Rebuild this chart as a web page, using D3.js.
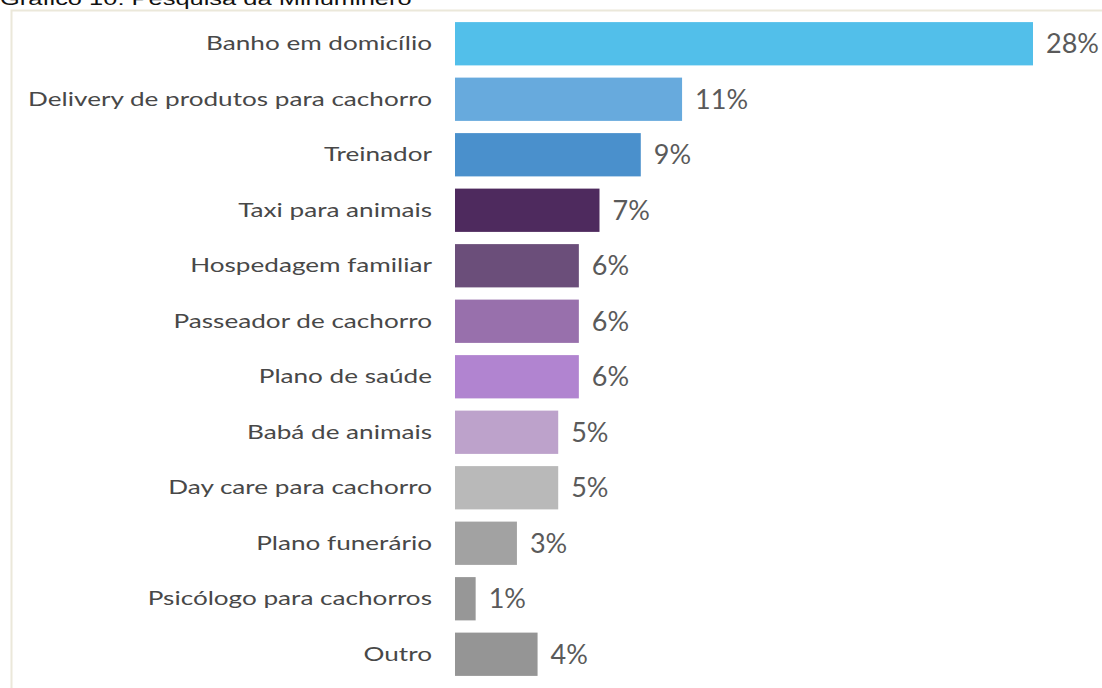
<!DOCTYPE html>
<html>
<head>
<meta charset="utf-8">
<script src="https://cdn.jsdelivr.net/npm/d3@7"></script>
<style>
  html, body { margin: 0; padding: 0; background: #ffffff; }
  svg { display: block; }
</style>
</head>
<body>
<svg id="chart" width="1102" height="688"></svg>
<script>
// Survey answers: services respondents would use for their dogs
const categories = [
  "Banho em domicílio",
  "Delivery de produtos para cachorro",
  "Treinador",
  "Taxi para animais",
  "Hospedagem familiar",
  "Passeador de cachorro",
  "Plano de saúde",
  "Babá de animais",
  "Day care para cachorro",
  "Plano funerário",
  "Psicólogo para cachorros",
  "Outro"
];
const values = [28, 11, 9, 7, 6, 6, 6, 5, 5, 3, 1, 4];
const barColors = [
  "#52bfea", "#67aadd", "#4a90cc", "#4e2a5e", "#6b4e7a", "#9870ac",
  "#b184d0", "#bda2cb", "#b9b9b9", "#a2a2a2", "#979797", "#959595"
];
const titleText = "Gráfico 10: Pesquisa da Minuminero";

const svg = d3.select("#chart");
const W = 1102, H = 688;
const stretch = 1.34; // wide setting of the label type

// Heading, partly cut off by the top edge
svg.append("text")
  .attr("transform", `translate(0,5) scale(${stretch},1)`)
  .attr("font-family", "Liberation Sans, Arial, sans-serif")
  .attr("font-size", 19)
  .attr("fill", "#111")
  .text(titleText);

// Light frame around the chart area
svg.append("path")
  .attr("d", `M11.5,${H} V10.5 H${W}`)
  .attr("fill", "none")
  .attr("stroke", "#ebe8da")
  .attr("stroke-width", 2);

const x = d3.scaleLinear().domain([0, 28]).range([455, 1033]);
const y = d3.scaleBand()
  .domain(categories)
  .range([16, 682])
  .paddingInner(0.22)
  .paddingOuter(0.11);

const font = "Lato, 'Open Sans', sans-serif";

svg.append("g")
  .selectAll("rect")
  .data(values)
  .join("rect")
  .attr("x", x(0))
  .attr("y", (d, i) => y(categories[i]))
  .attr("width", d => x(d) - x(0))
  .attr("height", y.bandwidth())
  .attr("fill", (d, i) => barColors[i]);

// Category axis on the left, no line or ticks
const yAxis = svg.append("g")
  .attr("transform", `translate(${x(0)},0)`)
  .call(d3.axisLeft(y).tickSize(0).tickPadding(23));
yAxis.select(".domain").remove();
yAxis.selectAll("text")
  .attr("x", 0)
  .attr("transform", `translate(-23,0) scale(${stretch},1)`)
  .attr("font-family", font)
  .attr("font-size", 19.5)
  .attr("fill", "#484848");

// Value labels
svg.append("g")
  .selectAll("text")
  .data(values)
  .join("text")
  .attr("x", d => x(d) + 13)
  .attr("y", (d, i) => y(categories[i]) + y.bandwidth() / 2)
  .attr("dy", "0.35em")
  .attr("font-family", font)
  .attr("font-size", 27)
  .attr("fill", "#5a5a5a")
  .text(d => d + "%");
</script>
</body>
</html>
